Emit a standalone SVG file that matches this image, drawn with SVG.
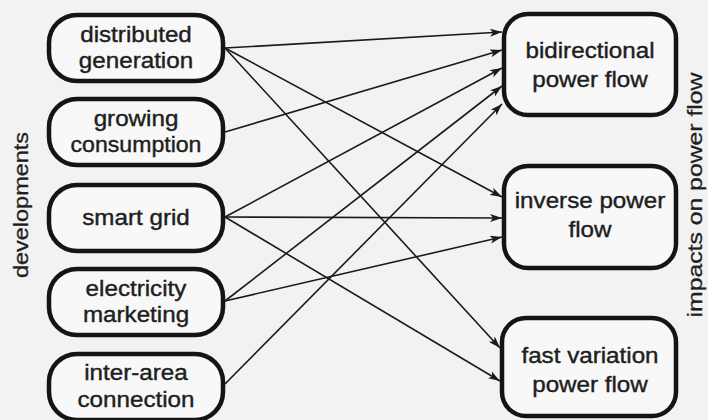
<svg xmlns="http://www.w3.org/2000/svg" width="708" height="420" viewBox="0 0 708 420">
<style>
.box{fill:#f8f8f8;stroke:#141414;stroke-width:4.5}
.t{font-family:"Liberation Sans",Arial,sans-serif;font-size:22px;fill:#1e1e1e;stroke:#1e1e1e;stroke-width:0.4;text-anchor:middle}
.side{font-family:"Liberation Sans",Arial,sans-serif;font-size:21px;fill:#1e1e1e;stroke:#1e1e1e;stroke-width:0.3;text-anchor:middle}
.c{stroke:#1a1a1a;stroke-width:1.6;fill:none;marker-end:url(#ah)}
</style>
<defs>
<marker id="ah" viewBox="0 0 12 8" refX="12" refY="4" markerWidth="12" markerHeight="8" markerUnits="userSpaceOnUse" orient="auto">
<path d="M0,0 L12,4 L0,8 L3,4 Z" fill="#1a1a1a"/>
</marker>
</defs>
<rect width="708" height="420" fill="#f2f2f2"/>
<text class="side" transform="translate(28 205) rotate(-90)" textLength="146" lengthAdjust="spacingAndGlyphs">developments</text>
<text class="side" transform="translate(702 195) rotate(-90)" textLength="245" lengthAdjust="spacingAndGlyphs">impacts on power flow</text>
<g id="connectors">
<line class="c" x1="225" y1="48" x2="502" y2="32"/>
<line class="c" x1="225" y1="48" x2="502" y2="197"/>
<line class="c" x1="225" y1="48" x2="500" y2="348"/>
<line class="c" x1="225" y1="132" x2="502" y2="50"/>
<line class="c" x1="225" y1="217" x2="502" y2="68"/>
<line class="c" x1="225" y1="217" x2="502" y2="218"/>
<line class="c" x1="225" y1="217" x2="500" y2="381"/>
<line class="c" x1="225" y1="301" x2="502" y2="86"/>
<line class="c" x1="225" y1="301" x2="502" y2="237"/>
<line class="c" x1="225" y1="384" x2="502" y2="104"/>
</g>
<g id="distributed-generation">
<rect class="box" x="49" y="15" width="174" height="66" rx="28"/>
<text class="t" transform="translate(136 42) scale(1.1 1)">distributed</text>
<text class="t" transform="translate(136 68) scale(1.1 1)">generation</text>
</g>
<g id="growing-consumption">
<rect class="box" x="49" y="99" width="174" height="66" rx="28"/>
<text class="t" transform="translate(136 126) scale(1.1 1)">growing</text>
<text class="t" transform="translate(136 152) scale(1.05 1)">consumption</text>
</g>
<g id="smart-grid">
<rect class="box" x="49" y="185" width="174" height="66" rx="28"/>
<text class="t" transform="translate(136 225) scale(1.1 1)">smart grid</text>
</g>
<g id="electricity-marketing">
<rect class="box" x="49" y="269" width="174" height="66" rx="28"/>
<text class="t" transform="translate(136 296) scale(1.1 1)">electricity</text>
<text class="t" transform="translate(136 322) scale(1.1 1)">marketing</text>
</g>
<g id="inter-area-connection">
<rect class="box" x="49" y="354" width="174" height="66" rx="28"/>
<text class="t" transform="translate(136 380) scale(1.1 1)">inter-area</text>
<text class="t" transform="translate(136 407) scale(1.1 1)">connection</text>
</g>
<g id="bidirectional-power-flow">
<rect class="box" x="504" y="14" width="172" height="101" rx="24"/>
<text class="t" transform="translate(590 58) scale(1.1 1)">bidirectional</text>
<text class="t" transform="translate(590 87) scale(1.1 1)">power flow</text>
</g>
<g id="inverse-power-flow">
<rect class="box" x="504" y="166" width="172" height="102" rx="24"/>
<text class="t" transform="translate(590 208) scale(1.1 1)">inverse power</text>
<text class="t" transform="translate(590 237) scale(1.1 1)">flow</text>
</g>
<g id="fast-variation-power-flow">
<rect class="box" x="502" y="318" width="174" height="98" rx="24"/>
<text class="t" transform="translate(590 363) scale(1.1 1)">fast variation</text>
<text class="t" transform="translate(590 392) scale(1.1 1)">power flow</text>
</g>
</svg>
